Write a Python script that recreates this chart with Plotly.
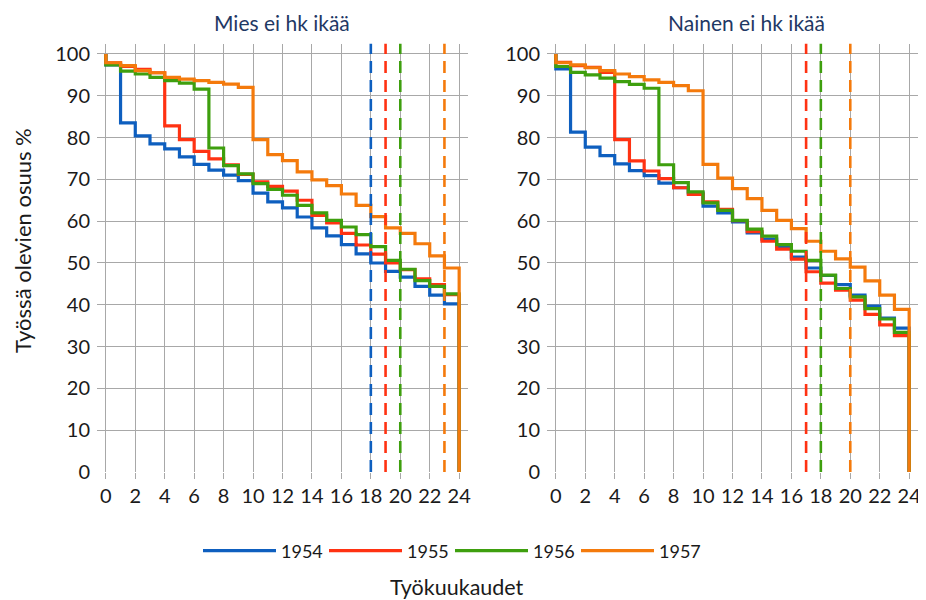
import plotly.graph_objects as go

# ---------------- data ----------------
months = list(range(25))          # 0..24 työkuukautta
years = ["1954", "1955", "1956", "1957"]

# Share still working (%) during each month interval [k, k+1), k = 0..23
men_1954 = [97.4, 83.5, 80.4, 78.5, 77.3, 75.4, 73.6, 72.2, 71.0, 69.7, 66.7, 64.6,
            63.2, 61.0, 58.4, 56.5, 54.4, 52.2, 50.0, 48.0, 46.6, 44.4, 42.3, 40.2]
men_1955 = [97.9, 97.0, 96.3, 95.5, 82.8, 79.5, 76.7, 74.9, 73.5, 71.2, 69.4, 68.3,
            67.2, 65.0, 61.4, 59.6, 57.1, 54.3, 52.1, 50.0, 48.4, 46.2, 44.8, 42.4]
men_1956 = [97.4, 95.9, 95.2, 94.4, 93.6, 93.0, 91.6, 77.5, 73.3, 71.3, 69.0, 67.6,
            66.2, 63.8, 62.0, 60.2, 58.6, 56.8, 53.9, 50.6, 48.5, 45.8, 44.4, 42.6]
men_1957 = [97.9, 97.2, 96.0, 95.5, 94.4, 94.0, 93.6, 93.2, 92.8, 92.0, 79.5, 75.9,
            74.5, 71.8, 69.9, 68.5, 66.5, 63.8, 61.1, 58.4, 57.1, 54.6, 51.7, 48.8]

women_1954 = [96.4, 81.3, 77.7, 75.7, 73.7, 72.1, 70.9, 69.1, 68.0, 66.7, 63.6, 62.0,
              59.8, 57.2, 55.7, 53.9, 51.4, 48.8, 47.0, 44.8, 42.3, 39.7, 36.8, 34.4]
women_1955 = [98.0, 97.2, 96.8, 95.6, 79.5, 74.4, 72.0, 70.2, 68.0, 66.4, 64.6, 62.8,
              60.1, 57.5, 55.2, 53.3, 50.9, 47.9, 45.2, 43.5, 41.1, 37.7, 35.2, 32.6]
women_1956 = [97.0, 95.6, 95.0, 94.2, 93.4, 92.7, 91.8, 73.5, 69.2, 67.0, 64.4, 62.6,
              60.2, 58.1, 56.4, 54.4, 52.8, 50.6, 47.1, 43.9, 41.9, 39.1, 36.6, 33.4]
women_1957 = [97.9, 97.4, 96.7, 96.0, 95.2, 94.6, 93.8, 93.2, 92.4, 91.2, 73.6, 70.3,
              67.8, 65.4, 62.6, 60.2, 58.2, 55.2, 52.8, 51.0, 49.0, 45.7, 42.3, 38.9]

# Retirement-age month markers (dashed lines)
men_markers = {"1954": 18, "1955": 19, "1956": 20, "1957": 23}
women_markers = {"1955": 17, "1956": 18, "1957": 20}

panel_titles = ["Mies ei hk ikää", "Nainen ei hk ikää"]
y_ticks = list(range(0, 101, 10))
x_ticks = list(range(0, 25, 2))

# ---------------- style ----------------
colors = {"1954": "#0E5FBF", "1955": "#FF3212", "1956": "#3E9F0E", "1957": "#F47A0C"}
FONT = "Lato, 'Open Sans', sans-serif"
GRID = "#A8A8A8"
TXT = "#1a1a1a"

men = {"1954": men_1954, "1955": men_1955, "1956": men_1956, "1957": men_1957}
women = {"1954": women_1954, "1955": women_1955, "1956": women_1956, "1957": women_1957}

fig = go.Figure()

def add_panel(data, markers, xa, ya, show):
    for yr in years:
        xs = months + [24]
        ys = [100] + data[yr] + [0]
        fig.add_trace(go.Scatter(
            x=xs, y=ys, mode="lines", line=dict(color=colors[yr], width=3.2, shape="vh"),
            name=yr, showlegend=show, legendgroup=yr, xaxis=xa, yaxis=ya,
            hoverinfo="skip"))
    for yr, m in markers.items():
        fig.add_trace(go.Scatter(
            x=[m, m], y=[0, 102.5], mode="lines",
            line=dict(color=colors[yr], width=2.6, dash="12px,7px"),
            showlegend=False, xaxis=xa, yaxis=ya, hoverinfo="skip"))

add_panel(men, men_markers, "x", "y", True)
add_panel(women, women_markers, "x2", "y2", False)

# page body has an 8px margin -> figure is 918x592 and positions are shifted by 8px
OFF = 8
W, H = 926 - OFF, 600 - OFF
def px(x):
    return (x - OFF) / W
def py(y):
    return 1 - (y - OFF) / H

ydom = [py(472), py(43.5)]
xaxis_common = dict(range=[-0.6, 24.6], tickvals=x_ticks, showgrid=True, gridcolor=GRID,
                    gridwidth=1.3, zeroline=False, showline=False, ticks="outside",
                    ticklen=6, tickcolor=GRID, tickwidth=1.3, automargin=False,
                    tickfont=dict(family=FONT, size=20, color=TXT), fixedrange=True)
yaxis_common = dict(range=[0, 102.5], tickvals=y_ticks, showgrid=True, gridcolor=GRID,
                    gridwidth=1.3, zeroline=False, showline=False, ticks="",
                    ticklabelstandoff=6, automargin=False,
                    tickfont=dict(family=FONT, size=20, color=TXT), domain=ydom,
                    fixedrange=True)

fig.update_layout(
    width=W, height=H, margin=dict(l=0, r=0, t=0, b=0, autoexpand=False),
    plot_bgcolor="white", paper_bgcolor="white",
    xaxis=dict(domain=[px(97), px(468)], anchor="y", **xaxis_common),
    yaxis=dict(anchor="x", **yaxis_common),
    xaxis2=dict(domain=[px(547), px(918)], anchor="y2", **xaxis_common),
    yaxis2=dict(anchor="x2", **yaxis_common),
    legend=dict(orientation="h", x=px(198), y=py(551), xanchor="left", yanchor="middle",
                font=dict(family=FONT, size=18, color=TXT), entrywidth=38,
                entrywidthmode="pixels", itemwidth=73, bgcolor="rgba(0,0,0,0)"),
    showlegend=True,
)

annotations = [
    dict(text=panel_titles[0], x=px(282), y=py(22), xref="paper", yref="paper",
         xanchor="center", yanchor="middle",
         showarrow=False, font=dict(family=FONT, size=21, color="#1F3864")),
    dict(text=panel_titles[1], x=px(746), y=py(22), xref="paper", yref="paper",
         xanchor="center", yanchor="middle",
         showarrow=False, font=dict(family=FONT, size=21, color="#1F3864")),
    dict(text="Työssä olevien osuus %", x=px(22), y=py(241), xref="paper", yref="paper",
         xanchor="center", yanchor="middle",
         showarrow=False, textangle=-90, font=dict(family=FONT, size=22, color=TXT)),
    dict(text="Työkuukaudet", x=px(457), y=py(587), xref="paper", yref="paper",
         xanchor="center", yanchor="middle",
         showarrow=False, font=dict(family=FONT, size=21.5, color=TXT)),
]
fig.update_layout(annotations=annotations)

fig.write_html("out.html")
